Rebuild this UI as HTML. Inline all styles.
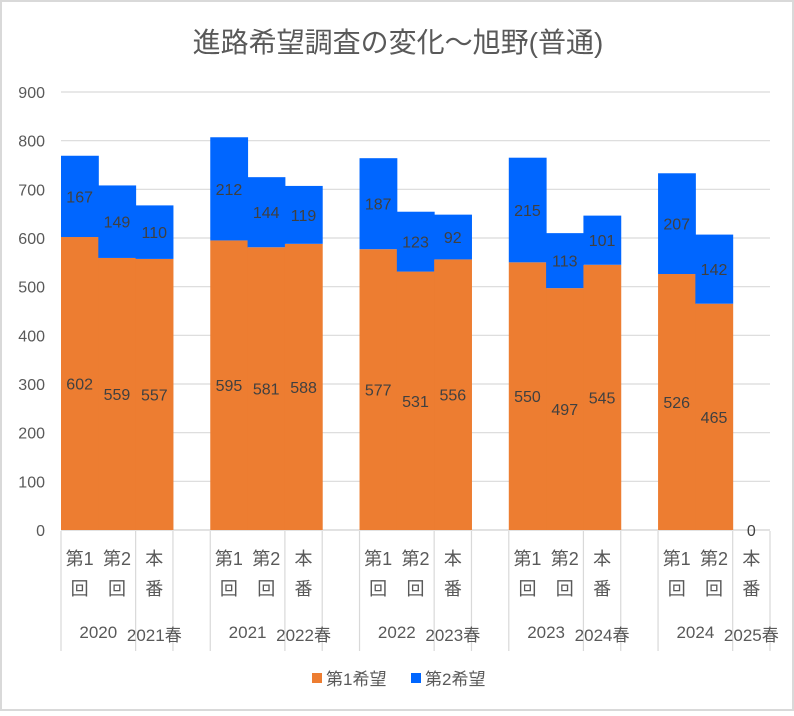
<!DOCTYPE html>
<html><head><meta charset="utf-8"><style>
body{margin:0;background:#fff}
svg text{font-family:"Liberation Sans","Noto Sans CJK JP",sans-serif}
</style></head><body>
<svg id="c" width="794" height="711">
<rect x="1" y="1" width="792" height="709" fill="#fff" stroke="#d9d9d9" stroke-width="2"/>
<text x="398" y="52" text-anchor="middle" font-size="28" fill="#595959">進路希望調査の変化～旭野(普通)</text>
</svg>
<script>
const years=["2020","2021","2022","2023","2024"];
const springs=["2021春","2022春","2023春","2024春","2025春"];
const rounds=["第1|回","第2|回","本|番"];
const first=[[602,559,557],[595,581,588],[577,531,556],[550,497,545],[526,465,0]];
const second=[[167,149,110],[212,144,119],[187,123,92],[215,113,101],[207,142,0]];
const ticks=[0,100,200,300,400,500,600,700,800,900];
const svg=document.getElementById('c');const NS='http://www.w3.org/2000/svg';
function mk(t,a,p){const e=document.createElementNS(NS,t);for(const k in a)e.setAttribute(k,a[k]);(p||svg).appendChild(e);return e;}
const x0=61,x1=770,y0=530,yTop=92,vmax=900;
const slot=(x1-x0)/19;
const y=v=>y0-(v/vmax)*(y0-yTop);
const xs=(g,i)=>x0+(g*4+i)*slot;
ticks.forEach(t=>{
 const l=mk('line',{x1:x0,x2:x1,y1:y(t),y2:y(t),stroke:'#d9d9d9','stroke-width':t==0?1.5:1.2});
 
 const tx=mk('text',{x:45,y:y(t)+6,'text-anchor':'end','font-size':16,fill:'#595959'});tx.textContent=t;
 
});
first.forEach((grp,g)=>grp.forEach((v,i)=>{
 const s=second[g][i],xl=xs(g,i),cx=xl+slot/2;
 const r1=mk('rect',{x:xl,y:y(v),width:slot+0.5,height:y0-y(v),fill:'#ED7D31'});
 
 const r2=mk('rect',{x:xl,y:y(v+s),width:slot+0.5,height:y(v)-y(v+s),fill:'#0066FF'});
 
 if(v>0||s>0){
  const t1=mk('text',{x:cx,y:y(v/2)+6,'text-anchor':'middle','font-size':16,fill:'#404040'});t1.textContent=v;
  
  const t2=mk('text',{x:cx,y:y(v+s/2)+6,'text-anchor':'middle','font-size':16,fill:'#404040'});t2.textContent=s;
  
 }else{
  const t0=mk('text',{x:cx,y:y0+6,'text-anchor':'middle','font-size':16,fill:'#404040'});t0.textContent=v;
  
 }
 const parts=rounds[i].split('|');
 parts.forEach((p,k)=>{const t=mk('text',{x:cx,y:565+k*30,'text-anchor':'middle','font-size':18,fill:'#595959'});t.textContent=p;
  });
}));
years.forEach((yr,g)=>{
 [0,2,3].forEach(i=>{const l=mk('line',{x1:xs(g,i),x2:xs(g,i),y1:531,y2:651,stroke:'#d9d9d9','stroke-width':1.2});
  });
 const t=mk('text',{x:xs(g,1),y:638,'text-anchor':'middle','font-size':17,fill:'#595959'});t.textContent=yr;
 
 const t2=mk('text',{x:xs(g,2.5),y:641,'text-anchor':'middle','font-size':17,fill:'#595959'});t2.textContent=springs[g];
 
});
const leg=[["第1希望","#ED7D31",312],["第2希望","#0066FF",411]];
leg.forEach(([n,c,lx])=>{
 const r=mk('rect',{x:lx,y:673,width:10,height:10,fill:c});
 const t=mk('text',{x:lx+14,y:685,'font-size':17,fill:'#595959'});t.textContent=n;
});
</script>
</body></html>
